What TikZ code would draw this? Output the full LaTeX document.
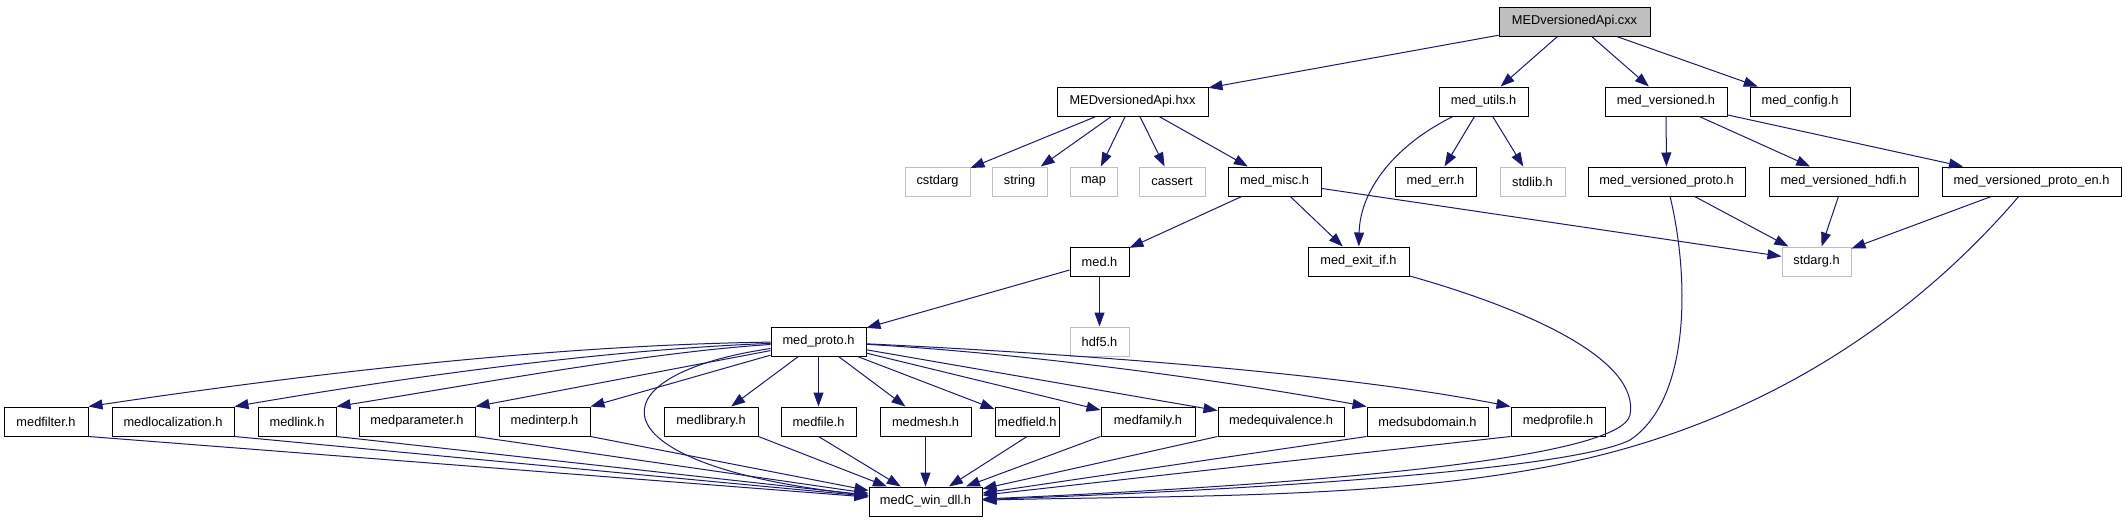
\documentclass[tikz,border=0pt]{standalone}
\usepackage{fontspec}
\setmainfont{Liberation Sans}
\usetikzlibrary{arrows.meta,calc}
\definecolor{edgec}{HTML}{191970}
\definecolor{graybox}{HTML}{BFBFBF}
\begin{document}
\begin{tikzpicture}[x=1pt,y=-1pt,
  box/.style={draw=black, line width=1pt, fill=white, minimum height=29pt, inner sep=0pt, font=\fontsize{12.8}{14}\selectfont},
  sys/.style={box, draw=graybox},
  root/.style={box, fill=graybox},
  edge/.style={draw=edgec, line width=1pt, -{Triangle[length=14pt,width=10pt]}}]
\fill[white] (0,0) rectangle (2127,523);
\useasboundingbox (0,0) rectangle (2127,523);
% row 1
\node[root, minimum width=151pt] (cxx) at (1574.5,21.5) {MEDversionedApi.cxx};
% row 2
\node[box, minimum width=151pt] (hxx) at (1132.5,101.5) {MEDversionedApi.hxx};
\node[box, minimum width=89pt] (utils) at (1483.5,101.5) {med\_utils.h};
\node[box, minimum width=122pt] (vers) at (1666,101.5) {med\_versioned.h};
\node[box, minimum width=100pt] (config) at (1800,101.5) {med\_config.h};
% row 3
\node[sys, minimum width=65pt] (cstdarg) at (937.5,181.5) {cstdarg};
\node[sys, minimum width=55pt] (string) at (1019.5,181.5) {string};
\node[sys, minimum width=47pt] (map) at (1093.5,181.5) {map};
\node[sys, minimum width=66pt] (cassert) at (1172,181.5) {cassert};
\node[box, minimum width=93pt] (misc) at (1274.5,181.5) {med\_misc.h};
\node[box, minimum width=81pt] (err) at (1435.5,181.5) {med\_err.h};
\node[sys, minimum width=65pt] (stdlib) at (1532.5,181.5) {stdlib.h};
\node[box, minimum width=157pt] (vproto) at (1666.5,181.5) {med\_versioned\_proto.h};
\node[box, minimum width=149pt] (vhdfi) at (1843.5,181.5) {med\_versioned\_hdfi.h};
\node[box, minimum width=179pt] (vprotoen) at (2031.5,181.5) {med\_versioned\_proto\_en.h};
% row 4
\node[box, minimum width=59pt] (med) at (1099.5,261.5) {med.h};
\node[box, minimum width=101pt] (exitif) at (1358.5,261.5) {med\_exit\_if.h};
\node[sys, minimum width=69pt] (stdarg) at (1816.5,261.5) {stdarg.h};
% row 5
\node[box, minimum width=95pt] (proto) at (818.5,341.5) {med\_proto.h};
\node[sys, minimum width=59pt] (hdf) at (1099.5,341.5) {hdf5.h};
% row 6
\node[box, minimum width=84pt] (mfilter) at (46,421.5) {medfilter.h};
\node[box, minimum width=122pt] (mloc) at (173,421.5) {medlocalization.h};
\node[box, minimum width=78pt] (mlink) at (297,421.5) {medlink.h};
\node[box, minimum width=116pt] (mparam) at (417,421.5) {medparameter.h};
\node[box, minimum width=91pt] (minterp) at (544.5,421.5) {medinterp.h};
\node[box, minimum width=94pt] (mlib) at (711,421.5) {medlibrary.h};
\node[box, minimum width=75pt] (mfile) at (818.5,421.5) {medfile.h};
\node[box, minimum width=91pt] (mmesh) at (925.5,421.5) {medmesh.h};
\node[box, minimum width=64pt] (mfield) at (1027,421.5) {medfield.h};
\node[box, minimum width=94pt] (mfamily) at (1148,421.5) {medfamily.h};
\node[box, minimum width=126pt] (mequiv) at (1281,421.5) {medequivalence.h};
\node[box, minimum width=121pt] (msub) at (1427.5,421.5) {medsubdomain.h};
\node[box, minimum width=94pt] (mprofile) at (1558,421.5) {medprofile.h};
% row 7
\node[box, minimum width=113pt] (dll) at (925.5,501.5) {medC\_win\_dll.h};

% edges from root
\draw[edge] (cxx) -- (hxx);
\draw[edge] (cxx) -- (utils);
\draw[edge] (cxx) -- (vers);
\draw[edge] (cxx) -- (config);
% hxx
\draw[edge] (hxx) -- (cstdarg);
\draw[edge] (hxx) -- (string);
\draw[edge] (hxx) -- (map);
\draw[edge] (hxx) -- (cassert);
\draw[edge] (hxx) -- (misc);
% utils
\draw[edge] (utils) -- (err);
\draw[edge] (utils) -- (stdlib);
\draw[edge] (utils) .. controls (1395,145) and (1360,190) .. (exitif);
% versioned
\draw[edge] (vers) -- (vproto);
\draw[edge] (vers) -- (vhdfi);
\draw[edge] (vers) -- (vprotoen);
% misc
\draw[edge] (misc) -- (med);
\draw[edge] (misc) -- (exitif);
\draw[edge] (misc) -- (stdarg);
% to stdarg
\draw[edge] (vproto) -- (stdarg);
\draw[edge] (vhdfi) -- (stdarg);
\draw[edge] (vprotoen) -- (stdarg);
% med.h
\draw[edge] (med) -- (proto);
\draw[edge] (med) -- (hdf);
% long curves to dll
\draw[edge] (exitif) .. controls (1530,310) and (1640,360) .. (1630,415) .. controls (1620,460) and (1300,485) .. (dll);
\draw[edge] (vproto) .. controls (1690,280) and (1690,400) .. (1630,440) .. controls (1570,470) and (1250,490) .. (dll);
\draw[edge] (vprotoen) .. controls (1930,300) and (1800,400) .. (1620,450) .. controls (1440,500) and (1200,495) .. (dll);
% med_proto
\draw[edge] (proto) .. controls (550,345) and (300,375) .. (mfilter.north east);
\draw[edge] (proto) .. controls (600,350) and (400,378) .. (mloc.north east);
\draw[edge] (proto) .. controls (650,352) and (470,385) .. (mlink.north east);
\draw[edge] (proto) -- (mparam.north east);
\draw[edge] (proto) -- (minterp.north east);
\draw[edge] (proto) -- (mlib);
\draw[edge] (proto) -- (mfile);
\draw[edge] (proto) -- (mmesh);
\draw[edge] (proto) -- (mfield);
\draw[edge] (proto) -- (mfamily);
\draw[edge] (proto) -- (mequiv);
\draw[edge] (proto) .. controls (1050,355) and (1250,385) .. (msub.north west);
\draw[edge] (proto) .. controls (1100,355) and (1350,375) .. (mprofile.north west);
\draw[edge] (proto) .. controls (590,375) and (590,465) .. (dll);
% row 6 to dll
\draw[edge] (mfilter.south east) -- (dll);
\draw[edge] (mloc.south east) -- (dll);
\draw[edge] (mlink.south east) -- (dll);
\draw[edge] (mparam.south east) -- (dll);
\draw[edge] (minterp.south east) -- (dll);
\draw[edge] (mlib.south east) -- (dll);
\draw[edge] (mfile.south) -- (dll);
\draw[edge] (mmesh) -- (dll);
\draw[edge] (mfield.south) -- (dll);
\draw[edge] (mfamily.south west) -- (dll);
\draw[edge] (mequiv.south west) -- (dll);
\draw[edge] (msub.south west) -- (dll);
\draw[edge] (mprofile.south west) -- (dll);
\end{tikzpicture}
\end{document}
